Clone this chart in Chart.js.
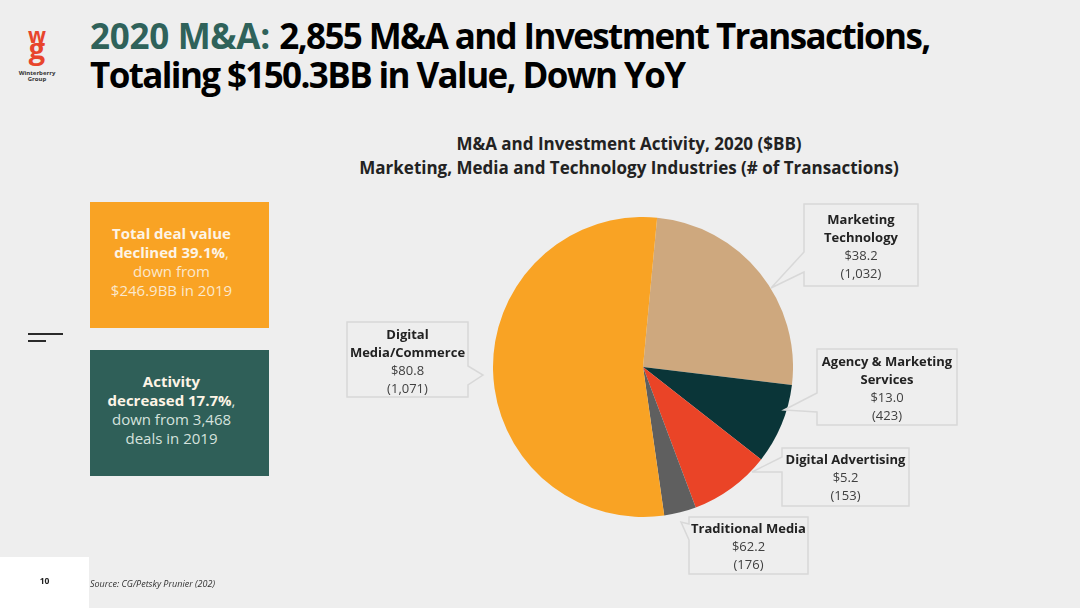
<!DOCTYPE html>
<html>
<head>
<meta charset="utf-8">
<title>2020 M&amp;A</title>
<script src="https://cdn.jsdelivr.net/npm/chart.js@4/dist/chart.umd.min.js"></script>
<style>
    html, body { margin: 0; padding: 0; }
    body {
        position: relative; width: 1080px; height: 608px; overflow: hidden;
        background: #eeeeee; font-family: "Open Sans", sans-serif; color: #222;
    }
    .abs { position: absolute; }
    .titleLine {
        left: 90px; height: 39px; font-size: 35px; line-height: 39px; font-weight: 700;
        letter-spacing: -1.62px; color: #000; white-space: nowrap;
    }
    .titleLine span { color: #2f625a; letter-spacing: -0.3px; margin-right: 2px; }
    #chartTitle {
        left: 329px; top: 132px; width: 600px; text-align: center;
        font-size: 17px; line-height: 24px; font-weight: 700; color: #222;
    }
    .stat {
        left: 90px; width: 179px; height: 126px; box-sizing: border-box; padding: 22px 16px 0 0;
        text-align: center; font-size: 15px; line-height: 19px; color: #fbe8cc; white-space: nowrap;
    }
    .stat b { font-weight: 700; color: #fdf4e6; }
    .callout {
        position: absolute; text-align: center; font-size: 13px; line-height: 18px;
        color: #404040; white-space: nowrap;
    }
    .callout b { font-weight: 700; color: #222; }
    #callouts { left: 0; top: 0; }
    #pieWrap { left: 493px; top: 217px; width: 300px; height: 300px; }
    #footer { left: 0; top: 557px; width: 89px; height: 51px; background: #fff; }
    #pageNo { left: 0; top: 575px; width: 89px; text-align: center; font-size: 8.5px; font-weight: 700; color: #222; }
    #source { left: 90px; top: 577px; font-size: 9px; font-style: italic; color: #333; white-space: nowrap; }
    .rule { background: #2a2a2a; height: 2px; left: 28px; }
    #logoW, #logoG { left: 18px; width: 38px; text-align: center; color: #e8452c; font-weight: 700; }
    #logoW { top: 29px; font-size: 21px; line-height: 12px; }
    #logoG { top: 41px; font-size: 29px; line-height: 14px; }
    #logoText { left: 12px; top: 70px; width: 50px; text-align: center; font-size: 6px; line-height: 6px; font-weight: 700; color: #333; }
</style>
</head>
<body>
<div class="abs" id="logoW">w</div>
<div class="abs" id="logoG">g</div>
<div class="abs" id="logoText">Winterberry<br>Group</div>

<div class="abs titleLine" style="top:16px"><span>2020 M&amp;A:</span> 2,855 M&amp;A and Investment Transactions,</div>
<div class="abs titleLine" style="top:55px">Totaling $150.3BB in Value, Down YoY</div>

<div class="abs" id="chartTitle">M&amp;A and Investment Activity, 2020 ($BB)<br>Marketing, Media and Technology Industries (# of Transactions)</div>

<div class="abs stat" style="top:202px;background:#f9a324"><b>Total deal value<br>declined 39.1%</b>,<br>down from<br>$246.9BB in 2019</div>
<div class="abs stat" style="top:350px;background:#2f5f58;color:#d5e2dd"><b>Activity<br>decreased 17.7%</b>,<br>down from 3,468<br>deals in 2019</div>

<div class="abs rule" style="top:333px;width:35px"></div>
<div class="abs rule" style="top:340px;width:18px"></div>

<div class="abs" id="pieWrap"><canvas id="dealPie" width="300" height="300"></canvas></div>
<svg class="abs" id="callouts" width="1080" height="608"></svg>

<div class="abs" id="footer"></div>
<div class="abs" id="pageNo">10</div>
<div class="abs" id="source">Source: CG/Petsky Prunier (202)</div>

<script>
// =========================================
// Chart data (clockwise from the tan slice)
// =========================================
const categories = [
    "Marketing Technology",
    "Agency & Marketing Services",
    "Digital Advertising",
    "Traditional Media",
    "Digital Media/Commerce",
];
// slice sizes
const sliceValues = [38.2, 13.0, 13.1, 5.2, 80.8];
// printed callout text, as shown in the reference
const valueLabels = ["$38.2", "$13.0", "$5.2", "$62.2", "$80.8"];
const dealCounts = ["(1,032)", "(423)", "(153)", "(176)", "(1,071)"];
const sliceColors = ["#cea87e", "#0a3538", "#ea4427", "#5f5f5f", "#f9a324"];

// =========================================
// Callout geometry (annotation boxes, not data)
// box: x, y, w, h; tail: tip and where it joins the left/right side
// =========================================
const calloutBoxes = [
    { x: 804, y: 204, w: 114, h: 82, dy: 1, lines: ["Marketing", "Technology"], side: "left", y1: 252, y2: 272, tipX: 771, tipY: 288 },
    { x: 817, y: 349, w: 140, h: 76, dy: 1, lines: ["Agency & Marketing", "Services"], side: "left", y1: 393, y2: 412, tipX: 784, tipY: 410 },
    { x: 782, y: 448, w: 127, h: 58, dy: 0, lines: ["Digital Advertising"], side: "left", y1: 457, y2: 472, tipX: 752, tipY: 472 },
    { x: 689, y: 517, w: 119, h: 57, dy: 0, lines: ["Traditional Media"], side: "left", y1: 524, y2: 540, tipX: 681, tipY: 522 },
    { x: 347, y: 322, w: 121, h: 75, dy: 1, lines: ["Digital", "Media/Commerce"], side: "right", y1: 366, y2: 385, tipX: 483, tipY: 375 },
];

// =========================================
// PIE CHART
// =========================================
new Chart(document.getElementById("dealPie"), {
    type: "pie",
    data: {
        labels: categories,
        datasets: [
            {
                data: sliceValues,
                backgroundColor: sliceColors,
                borderWidth: 0,
            },
        ],
    },
    options: {
        responsive: false,
        animation: false,
        rotation: 5.4,
        layout: { padding: 0 },
        plugins: {
            legend: { display: false },
            tooltip: { enabled: false },
        },
    },
});

// =========================================
// Callouts
// =========================================
const svg = document.getElementById("callouts");
calloutBoxes.forEach((box, i) => {
    const right = box.x + box.w;
    const bottom = box.y + box.h;
    let points;
    if (box.side === "left") {
        points = [
            [box.x, box.y], [right, box.y], [right, bottom], [box.x, bottom],
            [box.x, box.y2], [box.tipX, box.tipY], [box.x, box.y1],
        ];
    } else {
        points = [
            [box.x, box.y], [right, box.y], [right, box.y1], [box.tipX, box.tipY],
            [right, box.y2], [right, bottom], [box.x, bottom],
        ];
    }
    const shape = document.createElementNS("http://www.w3.org/2000/svg", "polygon");
    shape.setAttribute("points", points.map((p) => p.join(",")).join(" "));
    shape.setAttribute("fill", "#eeeeee");
    shape.setAttribute("stroke", "#d8d8d8");
    shape.setAttribute("stroke-width", "1.5");
    svg.appendChild(shape);

    const label = document.createElement("div");
    label.className = "callout";
    label.style.left = box.x + "px";
    label.style.width = box.w + "px";
    const totalLines = box.lines.length + 2;
    label.style.top = box.y + box.dy + (box.h - totalLines * 18) / 2 + "px";
    const names = box.lines.map((line) => "<b>" + line.replace("&", "&amp;") + "</b>");
    label.innerHTML = names.concat([valueLabels[i], dealCounts[i]]).join("<br>");
    document.body.appendChild(label);
});
</script>
</body>
</html>
